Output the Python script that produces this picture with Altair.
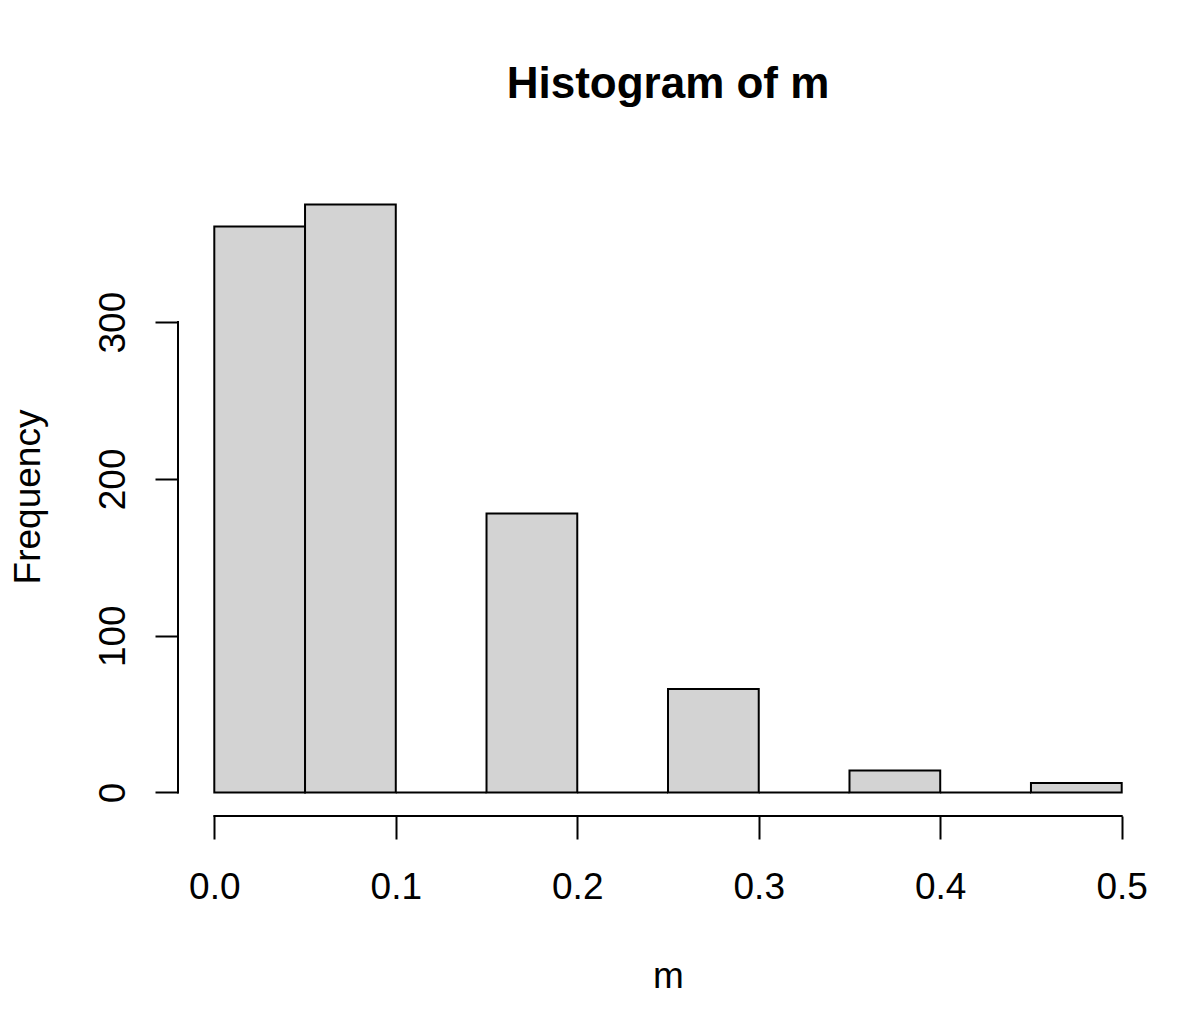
import altair as alt
import pandas as pd

# ---- data ----
bin_start = [0.00, 0.05, 0.10, 0.15, 0.20, 0.25, 0.30, 0.35, 0.40, 0.45]
bin_end = [0.05, 0.10, 0.15, 0.20, 0.25, 0.30, 0.35, 0.40, 0.45, 0.50]
counts = [361, 375, 0, 178, 0, 66, 0, 14, 0, 6]
x_ticks = [0.0, 0.1, 0.2, 0.3, 0.4, 0.5]
y_ticks = [0, 100, 200, 300]

W, H = 980, 635
FONT = "Liberation Sans"

df = pd.DataFrame({"start": bin_start, "end": bin_end, "count": counts})

xscale = alt.Scale(domain=[-0.02, 0.52], nice=False, zero=False)
yscale = alt.Scale(domain=[-15, 390], nice=False, zero=False)

x_axis = alt.Axis(
    values=x_ticks, format=".1f", domain=False, grid=False,
    tickSize=23, tickWidth=2, tickColor="black",
    labelFont=FONT, labelFontSize=37, labelColor="black",
    labelBaseline="alphabetic", labelAlign="center", labelPadding=59,
    labelFlush=False, labelOverlap=False,
    title="m", titleFont=FONT, titleFontSize=37, titleFontWeight="normal",
    titleColor="black", titleBaseline="alphabetic", titleAlign="center",
    titleX=W / 2, titleY=171,
)
y_axis = alt.Axis(
    values=y_ticks, format="d", domain=False, grid=False,
    tickSize=23, tickWidth=2, tickColor="black",
    labelFont=FONT, labelFontSize=37, labelColor="black",
    labelAngle=270, labelAlign="center", labelBaseline="alphabetic",
    labelPadding=31, labelFlush=False, labelOverlap=False,
    title="Frequency", titleFont=FONT, titleFontSize=37,
    titleFontWeight="normal", titleColor="black", titleAngle=270,
    titleAlign="center", titleBaseline="alphabetic",
    titleX=-139, titleY=H / 2 - 2,
)

bars = alt.Chart(df).mark_rect(
    fill="#d3d3d3", stroke="black", strokeWidth=2
).encode(
    x=alt.X("start:Q", scale=xscale, axis=x_axis),
    x2="end:Q",
    y=alt.Y("count:Q", scale=yscale, axis=y_axis),
    y2=alt.datum(0),
)

# axis lines spanning only the tick range, as in R
xline_df = pd.DataFrame({"start": [x_ticks[0]], "end": [x_ticks[-1]]})
x_line = alt.Chart(xline_df).mark_rule(
    color="black", strokeWidth=2, strokeCap="square"
).encode(
    x="start:Q", x2="end:Q", y=alt.value(H)
)

yline_df = pd.DataFrame({"count": [y_ticks[-1]]})
y_line = alt.Chart(yline_df).mark_rule(
    color="black", strokeWidth=2, strokeCap="square"
).encode(
    y="count:Q", y2=alt.datum(y_ticks[0]), x=alt.value(0)
)

chart = alt.layer(bars, x_line, y_line).properties(
    width=W, height=H,
    title=alt.TitleParams(
        text="Histogram of m", font=FONT, fontSize=44, fontWeight="bold",
        color="black", anchor="middle", frame="group",
        baseline="alphabetic", offset=39,
    ),
    autosize=alt.AutoSizeParams(type="none"),
    padding={"left": 170, "top": 173, "right": 34, "bottom": 180},
).configure(background="white").configure_view(strokeWidth=0, strokeOpacity=0)

chart.save("out.html", embed_options={"renderer": "svg", "actions": False})
